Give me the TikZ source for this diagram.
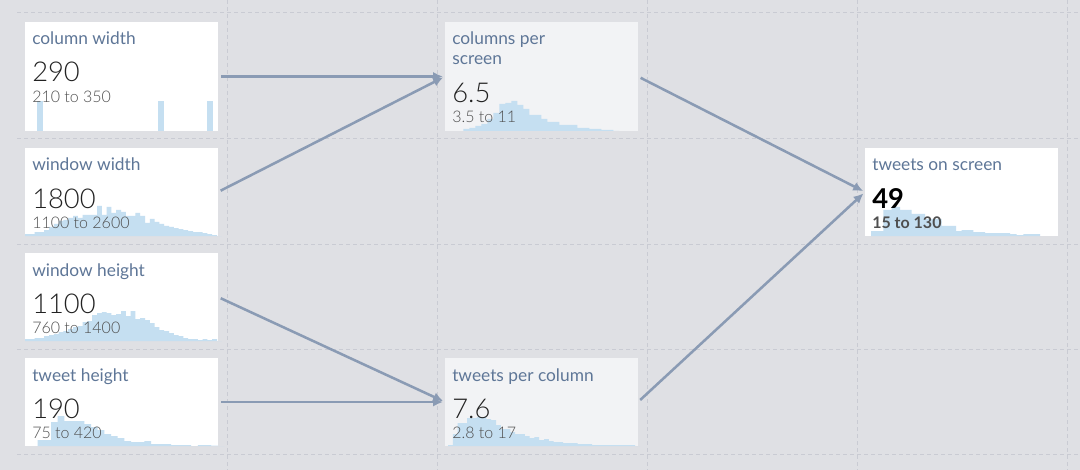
\documentclass[tikz,border=0pt]{standalone}
\usepackage{fontspec}
\setmainfont{Lato}
\newfontfamily\lightfont{Lato Light}
\usetikzlibrary{arrows.meta}
\definecolor{bg}{HTML}{DFE0E4}
\definecolor{gridc}{HTML}{C9CBD3}
\definecolor{midcard}{HTML}{F2F3F5}
\definecolor{titlec}{HTML}{5E7697}
\definecolor{numc}{HTML}{222222}
\definecolor{rangec}{HTML}{4F4F4F}
\definecolor{histc}{HTML}{C5DFF1}
\definecolor{arrowc}{HTML}{8A9BB4}
\newcommand{\histu}[4]{%
  \fill[histc] (#1,#2) foreach \h [count=\i from 0] in {#4} { -- ({#1+\i*#3},{#2-\h}) -- ({#1+(\i+1)*#3},{#2-\h}) } -- cycle;}
\begin{document}
\begin{tikzpicture}[x=0.75pt,y=-0.75pt,
  card/.style={fill=white, draw=none, inner sep=0pt, outer sep=0pt, minimum width=144.75pt, anchor=north west},
  midc/.style={card, fill=midcard},
  ttl/.style={anchor=base west, inner sep=0pt, text=titlec, font=\fontsize{13}{15}\selectfont},
  num/.style={anchor=base west, inner sep=0pt, text=numc, font=\lightfont\fontsize{20.5}{24}\selectfont},
  rng/.style={anchor=base west, inner sep=0pt, text=rangec, font=\lightfont\fontsize{12}{14}\selectfont},
  numb/.style={anchor=base west, inner sep=0pt, text=black, font=\bfseries\fontsize{20.5}{24}\selectfont},
  rngb/.style={anchor=base west, inner sep=0pt, text=rangec, font=\bfseries\fontsize{12}{14}\selectfont},
  link/.style={draw=arrowc, line width=1.9pt, -{Latex[length=7.5pt,width=7pt]}, shorten <=2.25pt, shorten >=1.5pt},
  gridl/.style={draw=gridc, line width=0.75pt, dash pattern=on 3pt off 2.25pt}]
% background
\fill[bg] (0,0) rectangle (1080,470);
\useasboundingbox (0,0) rectangle (1080,470);
% grid
\foreach \yy in {13,139,244,349,454} \draw[gridl] (17,\yy) -- (1080,\yy);
\foreach \xx in {227,437,647,857,1067} \draw[gridl] (\xx,0) -- (\xx,470);
% cards
\node[card, minimum height=81.75pt] (cw) at (25,22) {};
\node[card, minimum height=66pt] (ww) at (25,148) {};
\node[card, minimum height=66pt] (wh) at (25,253) {};
\node[card, minimum height=66pt] (th) at (25,358) {};
\node[midc, minimum height=81.75pt] (cps) at (445,22) {};
\node[midc, minimum height=66pt] (tpc) at (445,358) {};
\node[card, minimum height=66pt] (tos) at (865,148) {};
% histograms
\fill[histc] (37,131) rectangle (43,101);
\fill[histc] (158,131) rectangle (164,101);
\fill[histc] (207,131) rectangle (213,101);
\histu{25}{236}{4.8}{2,2,4,4,6,9,12,15,16,18,20,18,21,21,21,30,21,29,23,26,24,20,20,23,20,13,17,14,12,10,9,8,7,6,5,4,4,3,2,1,0}
\histu{25}{341}{4.8}{2,2,3,3,5,6,7,9,10,12,14,15,19,20,26,28,29,28,26,27,30,25,30,22,23,21,18,14,11,10,8,6,5,3,2,2,1,2,1,2,0}
\histu{37.7}{446}{6.67}{6,6,24,30,25,25,25,22,19,16,12,10,8,5,4,4,5,2,2,2,1,1,1,0,1,1,0.5,0}
\histu{463.3}{131}{6}{2,3,5,7,12,18,27,28,30,26,22,16,16,12,9,9,6,6,6,3,3,2,2,1,1,0}
\histu{448}{446}{4.8}{1,12,23,23,28,28,29,29,27,26,21,17,17,14,12,12,10,8,9,6,7,5,4,4,3,3,3,2,2,2,1,1,1,1,1,1,1,1,1,0}
\fill[histc] (871,236) foreach \a/\b/\h in {871/883.3/5, 883.3/891.7/26, 891.7/900/29, 900/911.7/26, 911.7/925/22, 925/941.7/17, 941.7/956/10, 956/961.7/5, 961.7/973.3/6, 973.3/985/4, 985/1010/3, 1010/1016.7/2, 1016.7/1023.3/1, 1023.3/1040/2} { -- (\a,{236-\h}) -- (\b,{236-\h}) } -- (1040,236) -- cycle;
% texts
\node[ttl] (cwt) at (32,45) {column width};
\node[num] (cwn) at (32,82) {290};
\node[rng] (cwr) at (32,103) {210 to 350};
\node[ttl] (wwt) at (32,171) {window width};
\node[num] (wwn) at (32,208.5) {1800};
\node[rng] (wwr) at (32,228.5) {1100 to 2600};
\node[ttl] (wht) at (32,276) {window height};
\node[num] (whn) at (32,313.5) {1100};
\node[rng] (whr) at (32,333.5) {760 to 1400};
\node[ttl] (tht) at (32,381) {tweet height};
\node[num] (thn) at (32,418.5) {190};
\node[rng] (thr) at (32,438.5) {75 to 420};
\node[ttl] (cpst) at (452,45) {columns per};
\node[ttl] (cpst2) at (452,65) {screen};
\node[num] (cpsn) at (452,103) {6.5};
\node[rng] (cpsr) at (452,123) {3.5 to 11};
\node[ttl] (tpct) at (452,381) {tweets per column};
\node[num] (tpcn) at (452,418.5) {7.6};
\node[rng] (tpcr) at (452,438.5) {2.8 to 17};
\node[ttl] (tost) at (872,171) {tweets on screen};
\node[numb] (tosn) at (872,208.5) {49};
\node[rngb] (tosr) at (872,228.5) {15 to 130};
% arrows
\draw[link] (cw.east) -- (cps.west);
\draw[link] (ww.east) -- (cps.west);
\draw[link] (wh.east) -- (tpc.west);
\draw[link] (th.east) -- (tpc.west);
\draw[link] (cps.east) -- (tos.west);
\draw[link] (tpc.east) -- (tos.west);
\end{tikzpicture}
\end{document}
